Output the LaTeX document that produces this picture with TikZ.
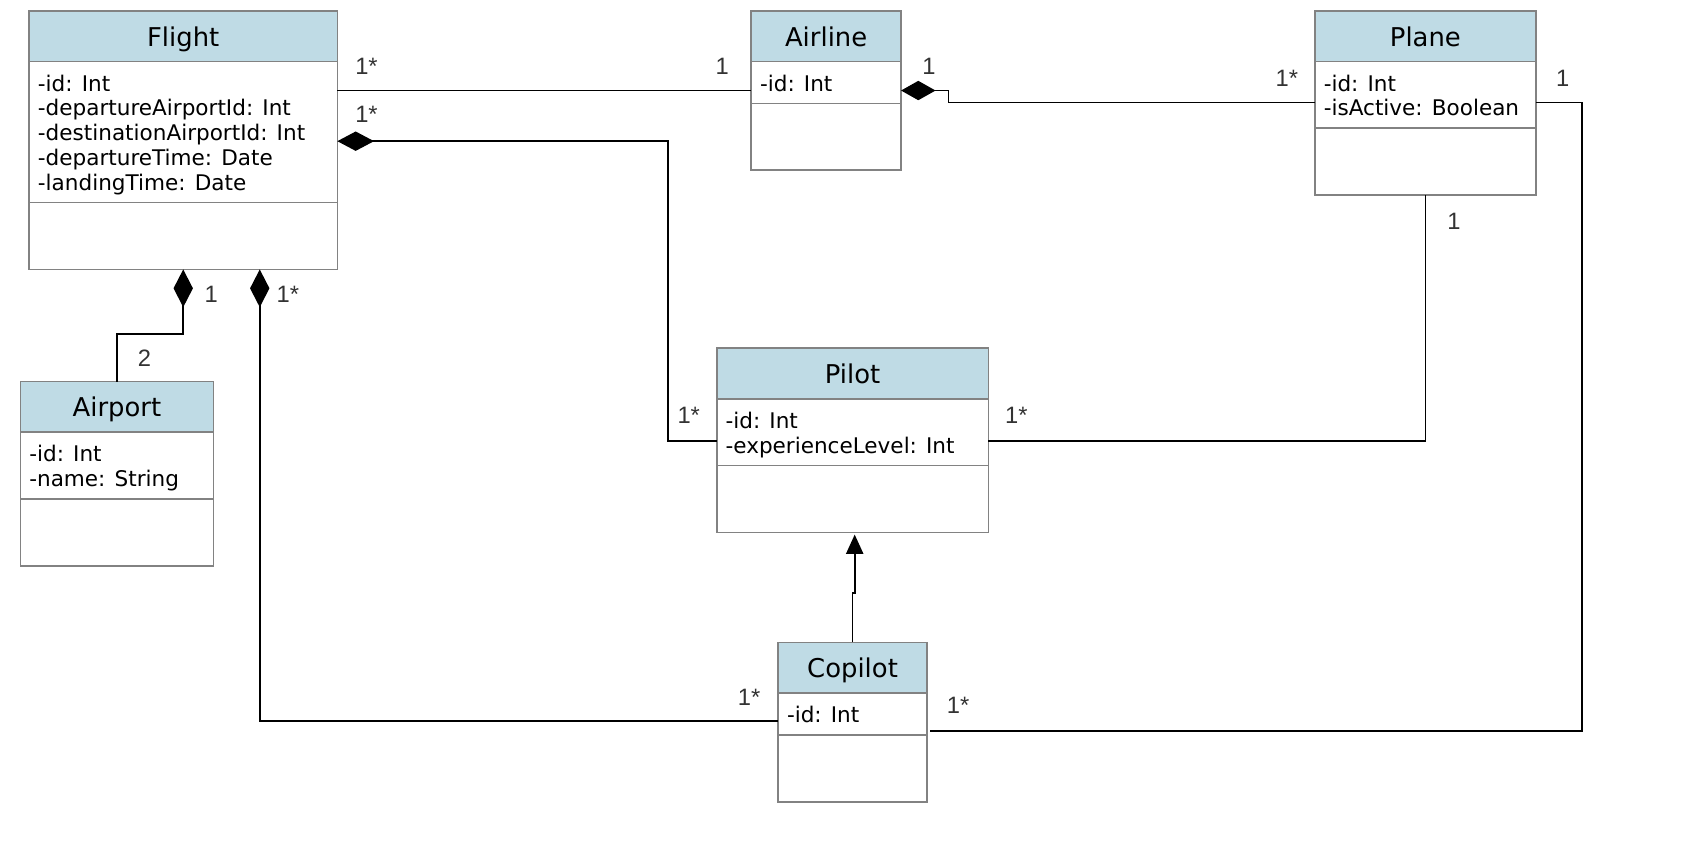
\documentclass[tikz,border=0pt]{standalone}
\usepackage{fontspec}
\usetikzlibrary{arrows.meta,calc}
\newfontfamily\classfont{DejaVu Sans}
\newfontfamily\lblfont{Liberation Sans}
\definecolor{hdr}{RGB}{191,219,229}
\definecolor{boxgray}{RGB}{130,130,130}
\definecolor{lblgray}{RGB}{51,51,51}
\tikzset{
  classbox/.style={draw=boxgray, line width=1.5pt, inner sep=0pt, outer sep=0pt, anchor=north west},
  sepline/.style={draw=boxgray, line width=1.5pt},
  titletext/.style={font={\classfont\fontsize{24}{28}\selectfont}, inner sep=0pt, text height=17.4pt, text depth=0pt},
  attrtext/.style={font={\classfont\fontsize{20}{23}\selectfont}, inner sep=0pt, anchor=base west},
  lbl/.style={font={\lblfont\fontsize{22}{26}\selectfont}, text=lblgray, inner sep=0pt, text height=15.8pt, text depth=0pt},
  assoc/.style={line width=1.6pt, black},
}
\newcommand\umlclass[7]{%
  \fill[white] (#2,#3) rectangle ++(#4,{47+#5+62});
  \fill[hdr] (#2,#3) rectangle ++(#4,47);
  \node[classbox, minimum width=#4, minimum height={47+#5+62}] (#1) at (#2,#3) {};
  \draw[sepline] (#2,{#3+47}) -- ++(#4,0);
  \draw[sepline] (#2,{#3+47+#5}) -- ++(#4,0);
  \node[titletext] (#1-title) at ({#2+#4/2},{#3+24}) {#6};
  \foreach \t [count=\i from 0] in {#7}
    \node[attrtext] (#1-attr\i) at ({#2+8},{#3+47+27.5+23*\i}) {\t};
}
\begin{document}
\begin{tikzpicture}[x=1pt,y=-1pt]
\useasboundingbox[fill=white] (0,0) rectangle (1568,783);

\umlclass{flight}{27}{10}{286}{131}{Flight}{-id: Int,-departureAirportId: Int,-destinationAirportId: Int,-departureTime: Date,-landingTime: Date}
\umlclass{airline}{697}{10}{139}{39}{Airline}{-id: Int}
\umlclass{plane}{1220}{10}{205}{62}{Plane}{-id: Int,-isActive: Boolean}
\umlclass{airport}{19}{354}{179}{62}{Airport}{-id: Int,-name: String}
\umlclass{pilot}{665}{323}{252}{62}{Pilot}{-id: Int,-experienceLevel: Int}
\umlclass{copilot}{722}{596}{138}{39}{Copilot}{-id: Int}

% Flight -- Airline
\draw[assoc] ($(flight.north east)+(0,74)$) -- ($(airline.north west)+(0,74)$);
% Flight <>-- Pilot
\draw[assoc, {Diamond[length=34pt,width=18pt]}-] ($(flight.north east)+(0,121)$) -| ($(pilot.north west)+(-45,86)$) -- ($(pilot.north west)+(0,86)$);
% Airline <>-- Plane
\draw[assoc, {Diamond[length=32pt,width=18pt]}-] ($(airline.north east)+(0,74)$) -- ++(44,0) |- ($(plane.north west)+(0,85)$);
% Plane -- Pilot
\draw[assoc] (plane.south) |- ($(pilot.north east)+(0,86)$);
% Plane -- Copilot
\draw[assoc] ($(plane.north east)+(0,85)$) -- ++(43,0) |- ($(copilot.north east)+(3,82)$);
% Flight <>-- Airport
\draw[assoc, {Diamond[length=35pt,width=18pt]}-] ($(flight.south west)+(143,0)$) -- ++(0,60) -| (airport.north);
% Flight <>-- Copilot
\draw[assoc, {Diamond[length=35pt,width=18pt]}-] ($(flight.south west)+(214,0)$) |- ($(copilot.north west)+(0,73)$);
% Copilot --|> Pilot
\draw[assoc, -{Triangle[length=18pt,width=16pt]}] (copilot.north) -- ++(0,-46) -- ++(2,0) -- ($(pilot.south)+(2,2)$);

% multiplicities
\node[lbl] (m1) at (340,61) {1*};
\node[lbl] (m2) at (670,61) {1};
\node[lbl] (m3) at (340,106) {1*};
\node[lbl] (m4) at (639,385) {1*};
\node[lbl] (m5) at (862,61) {1};
\node[lbl] (m6) at (1194,72) {1*};
\node[lbl] (m7) at (1450,72) {1};
\node[lbl] (m8) at (1349,205) {1};
\node[lbl] (m9) at (943,385) {1*};
\node[lbl] (m10) at (196,273) {1};
\node[lbl] (m11) at (267,273) {1*};
\node[lbl] (m12) at (134,332) {2};
\node[lbl] (m13) at (695,647) {1*};
\node[lbl] (m14) at (889,654) {1*};
\end{tikzpicture}
\end{document}
